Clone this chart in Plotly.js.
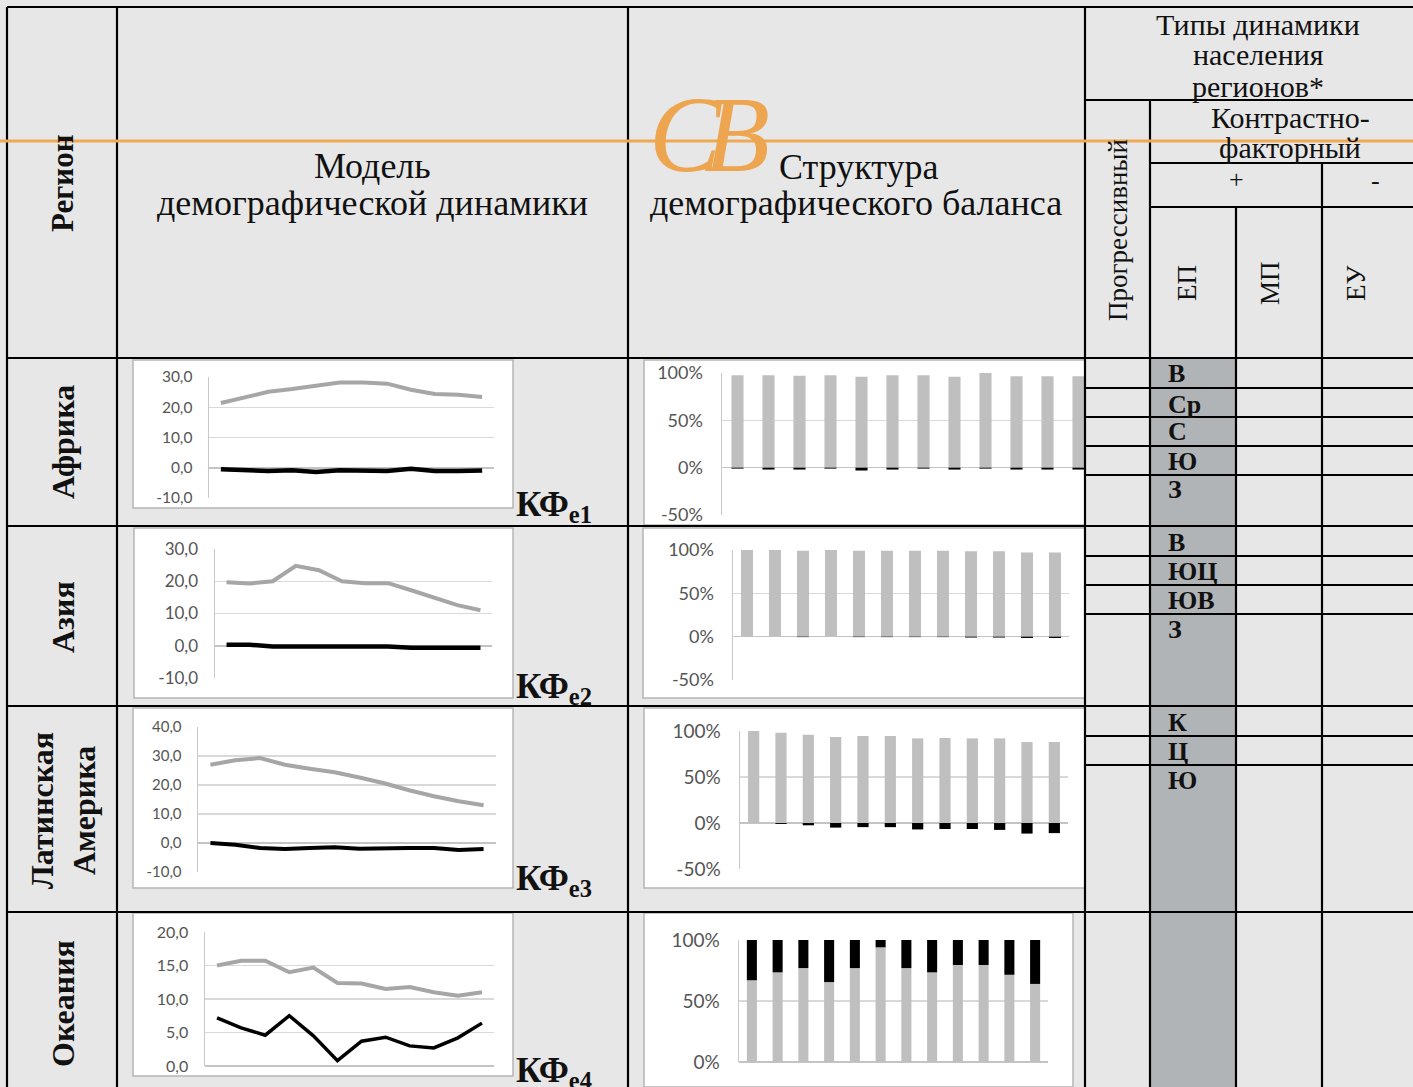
<!DOCTYPE html>
<html><head><meta charset="utf-8">
<script src="https://cdn.plot.ly/plotly-3.0.1.min.js"></script>
<style>html,body{margin:0;padding:0;background:#e7e7e7;}#c{width:1413px;height:1087px;}</style>
</head><body><div id="c"></div>
<script>
// ---- data ----
const periods = [1,2,3,4,5,6,7,8,9,10,11,12];
const regions = ['Африка','Азия','Латинская<br>Америка','Океания'];
const kfLabels = ['КФ<sub>e1</sub>','КФ<sub>e2</sub>','КФ<sub>e3</sub>','КФ<sub>e4</sub>'];
// Африка
const afrNatural   = [21.4,23.4,25.1,26.0,27.1,28.2,28.2,27.8,25.8,24.4,24.1,23.4];
const afrMigration = [-0.5,-0.9,-1.1,-0.8,-1.4,-0.8,-0.8,-1.1,-0.3,-1.1,-1.1,-0.9];
const afrNatShare  = [97.5,97.5,97,97.5,96,97.5,97.5,96,100,96.5,96.5,96.5];
const afrMigShare  = [-1,-2,-2,-1,-3,-2,-1,-2,-1,-2,-2,-2];
// Азия
const asiaNatural   = [19.7,19.3,20.0,24.8,23.4,20.0,19.4,19.4,17.2,14.8,12.6,11.0];
const asiaMigration = [0.3,0.3,-0.2,-0.2,-0.2,-0.2,-0.2,-0.2,-0.6,-0.6,-0.6,-0.6];
const asiaNatShare  = [100,100,99,100,99,99,99,99,98.5,98.5,97,97];
const asiaMigShare  = [0,0,-0.5,0,-0.5,-0.5,-0.5,-0.5,-1,-1,-1.5,-1.5];
// Латинская Америка
const latNatural   = [27.0,28.5,29.3,27.0,25.6,24.4,22.6,20.6,18.2,16.1,14.4,13.0];
const latMigration = [0,-0.6,-1.7,-2.1,-1.7,-1.5,-2.0,-1.7,-1.7,-1.7,-2.4,-2.1];
const latNatShare  = [100,98,96,93.5,94.5,94.5,92,92.5,92,92,88,88];
const latMigShare  = [0,-1,-2.5,-5,-4.5,-4.5,-7,-6.5,-6.5,-7.5,-11.5,-11];
// Океания
const oceNatural   = [15.0,15.7,15.7,14.0,14.7,12.4,12.3,11.5,11.8,11.0,10.5,11.0];
const oceMigration = [7.2,5.7,4.6,7.5,4.5,0.8,3.7,4.3,3.0,2.7,4.2,6.4];
const oceNatShare  = [67,73.5,77,65.5,77,94,77,73.5,79.5,79.5,71.5,64];
const oceMigShare  = [33,26.5,23,34.5,23,6,23,26.5,20.5,20.5,28.5,36];
// table codes
const afrCodes = ['В','Ср','С','Ю','З'];
const asiaCodes = ['В','ЮЦ','ЮВ','З'];
const latCodes = ['К','Ц','Ю'];
const lineTicks = [[-10,0,10,20,30],[-10,0,10,20,30],[-10,0,10,20,30,40],[0,5,10,15,20]];
const barTicks = [[-50,0,50,100],[-50,0,50,100],[-50,0,50,100],[0,50,100]];

// ---- layout helpers ----
const W=1413,H=1087;
const fx=x=>x/W, fy=y=>1-y/H;
const serif='Liberation Serif, Times New Roman, serif';
const sans='Lato, Carlito, Liberation Sans, sans-serif';
const GRAY_LINE='#a6a6a6', GRAY_BAR='#bfbfbf';

const linePanels=[
 {box:[133,360,513,508],px:[209,494],py:[377,498],yr:[-10,30],fs:15.5,nat:afrNatural,mig:afrMigration,bw:4.5},
 {box:[134,528,513,698],px:[215,492],py:[549,678],yr:[-10,30],fs:17,nat:asiaNatural,mig:asiaMigration,bw:4.5},
 {box:[133,708,513,888],px:[198,496],py:[727,872],yr:[-10,40],fs:15,nat:latNatural,mig:latMigration,bw:4},
 {box:[133,913,513,1076],px:[205,494],py:[932,1066],yr:[0,20],fs:16,nat:oceNatural,mig:oceMigration,bw:3.5}
];
const barPanels=[
 {box:[644,360,1085,525],px:[722,1085],py:[373,515],xr:[0.5,12.21],yr:[-50,100],fs:18,nat:afrNatShare,mig:afrMigShare,w:0.39},
 {box:[643,528,1085,698],px:[733,1069],py:[550,680],xr:[0.5,12.5],yr:[-50,100],fs:18,nat:asiaNatShare,mig:asiaMigShare,w:0.43},
 {box:[644,708,1085,888],px:[740,1068],py:[731,869],xr:[0.5,12.5],yr:[-50,100],fs:19,nat:latNatShare,mig:latMigShare,w:0.41},
 {box:[644,913,1073,1087],px:[739,1048],py:[940,1062],xr:[0.5,12.5],yr:[0,100],fs:19,nat:oceNatShare,mig:oceMigShare,w:0.39}
];

const data=[], layout={
 width:W,height:H,margin:{l:0,r:0,t:0,b:0},
 paper_bgcolor:'#e7e7e7',plot_bgcolor:'rgba(0,0,0,0)',
 showlegend:false,separators:', ',shapes:[],annotations:[]
};
const shapes=layout.shapes, ann=layout.annotations;
function rect(x0,y0,x1,y1,fill,line,layer){shapes.push({type:'rect',xref:'paper',yref:'paper',x0:fx(x0),x1:fx(x1),y0:fy(y1),y1:fy(y0),fillcolor:fill,line:line||{width:0},layer:layer||'below'});}
function seg(x0,y0,x1,y1,color,w){shapes.push({type:'line',xref:'paper',yref:'paper',x0:fx(x0),x1:fx(x1),y0:fy(y0),y1:fy(y1),line:{color:color,width:w},layer:'above'});}
function txt(t,x,y,size,o){o=o||{};ann.push(Object.assign({text:t,xref:'paper',yref:'paper',x:fx(x),y:fy(y),showarrow:false,xanchor:'center',yanchor:'middle',font:{family:serif,size:size,color:'#111'}},o));}

// gray column
rect(1150,358,1236,1087,'#b1b4b6');

let n=0;
function addAxes(p,isBar){
 n++;
 const xa='xaxis'+n, ya='yaxis'+n;
 const ticks=isBar?barTicks[(n-1)>>1]:lineTicks[(n-1)>>1];
 layout[xa]={domain:[fx(p.px[0]),fx(p.px[1])],anchor:'y'+n,range:p.xr||[0.5,12.5],showticklabels:false,showgrid:false,zeroline:false,showline:false,ticks:'',fixedrange:true};
 layout[ya]={domain:[fy(p.py[1]),fy(p.py[0])],anchor:'x'+n,range:p.yr,tickvals:ticks,
  ticktext:ticks.map(v=>isBar?(v+'%'):v.toFixed(1).replace('.',',')),
  showgrid:true,gridcolor:'#d9d9d9',gridwidth:1.3,zeroline:true,zerolinecolor:'#c4c4c4',zerolinewidth:1.5,
  showline:true,linecolor:'#c8c8c8',linewidth:1.5,ticks:'',ticklabelstandoff:isBar?14:12,
  tickfont:{family:sans,size:p.fs,color:'#555'},fixedrange:true};
 return n;
}
linePanels.forEach((p,i)=>{
 rect(p.box[0],p.box[1],p.box[2],p.box[3],'#ffffff',{color:'#b5b5b5',width:1.5});
 const k=addAxes(p,false);
 data.push({type:'scatter',mode:'lines',x:periods,y:p.nat,xaxis:'x'+k,yaxis:'y'+k,line:{color:GRAY_LINE,width:4},name:'Естественный прирост'});
 data.push({type:'scatter',mode:'lines',x:periods,y:p.mig,xaxis:'x'+k,yaxis:'y'+k,line:{color:'#000',width:p.bw},name:'Миграционный прирост'});
 const b=barPanels[i];
 rect(b.box[0],b.box[1],b.box[2],b.box[3],'#ffffff',{color:'#b5b5b5',width:1.5});
 const kb=addAxes(b,true);
 data.push({type:'bar',x:periods,y:b.nat,xaxis:'x'+kb,yaxis:'y'+kb,width:b.w,marker:{color:GRAY_BAR},name:'Естественный прирост'});
 data.push({type:'bar',x:periods,y:b.mig,xaxis:'x'+kb,yaxis:'y'+kb,width:b.w,marker:{color:'#000'},name:'Миграционный прирост'});
});
layout.barmode='relative';

// table lines
const K='#000', LW=2.2;
[[7,7,1413,7],[1085,100,1413,100],[1150,163,1413,163],[1150,207,1413,207],[7,358,1413,358],[7,526,1413,526],[7,706,1413,706],[7,912,1413,912]]
 .forEach(s=>seg(s[0],s[1],s[2],s[3],K,LW));
[388,417,446,475,556,585,614,736,765].forEach(y=>seg(1085,y,1413,y,K,LW));
[[7,7,7,1087],[117,7,117,1087],[628,7,628,1087],[1085,7,1085,1087],[1150,100,1150,1087],[1236,207,1236,1087],[1322,163,1322,1087]]
 .forEach(s=>seg(s[0],s[1],s[2],s[3],K,LW));
// orange decorative line
seg(0,141,1413,141,'#f0a852',3);

// logo
txt('<i>C</i>',686,134,108,{font:{family:serif,size:108,color:'#eda54f'}});
txt('<i>B</i>',737,134,108,{font:{family:serif,size:108,color:'#eda54f'}});

// header texts
txt('<b>Регион</b>',63,183,31,{textangle:-90});
txt('Модель',372,166,36);
txt('демографической динамики',372,203,36);
txt('Структура',859,167,36);
txt('демографического баланса',856,203,36);
txt('Типы динамики',1258,24,30);
txt('населения',1258,55,30);
txt('регионов*',1258,86,30);
txt('Контрастно-',1290,118,30);
txt('факторный',1290,148,30);
txt('+',1236,179,26);
txt('-',1375,181,26);
txt('Прогрессивный',1118,230,27,{textangle:-90});
txt('ЕП',1187,283,27,{textangle:-90});
txt('МП',1270,283,27,{textangle:-90});
txt('ЕУ',1356,283,27,{textangle:-90});

// region names
const regionY=[442,617,810,1003];
regions.forEach((r,i)=>txt('<b>'+r+'</b>',63,regionY[i],32,{textangle:-90}));
// KF labels
const kfY=[506,688,880,1072];
kfLabels.forEach((t,i)=>txt('<b>'+t+'</b>',514,kfY[i],35,{xanchor:'left'}));
// codes
const codeRows=[[afrCodes,[374,404,432,461,490]],[asiaCodes,[542,571,600,629]],[latCodes,[722,751,780]]];
codeRows.forEach(r=>r[0].forEach((c,j)=>txt('<b>'+c+'</b>',1166,r[1][j],26,{xanchor:'left'})));

Plotly.newPlot('c',data,layout,{staticPlot:true});
</script></body></html>
